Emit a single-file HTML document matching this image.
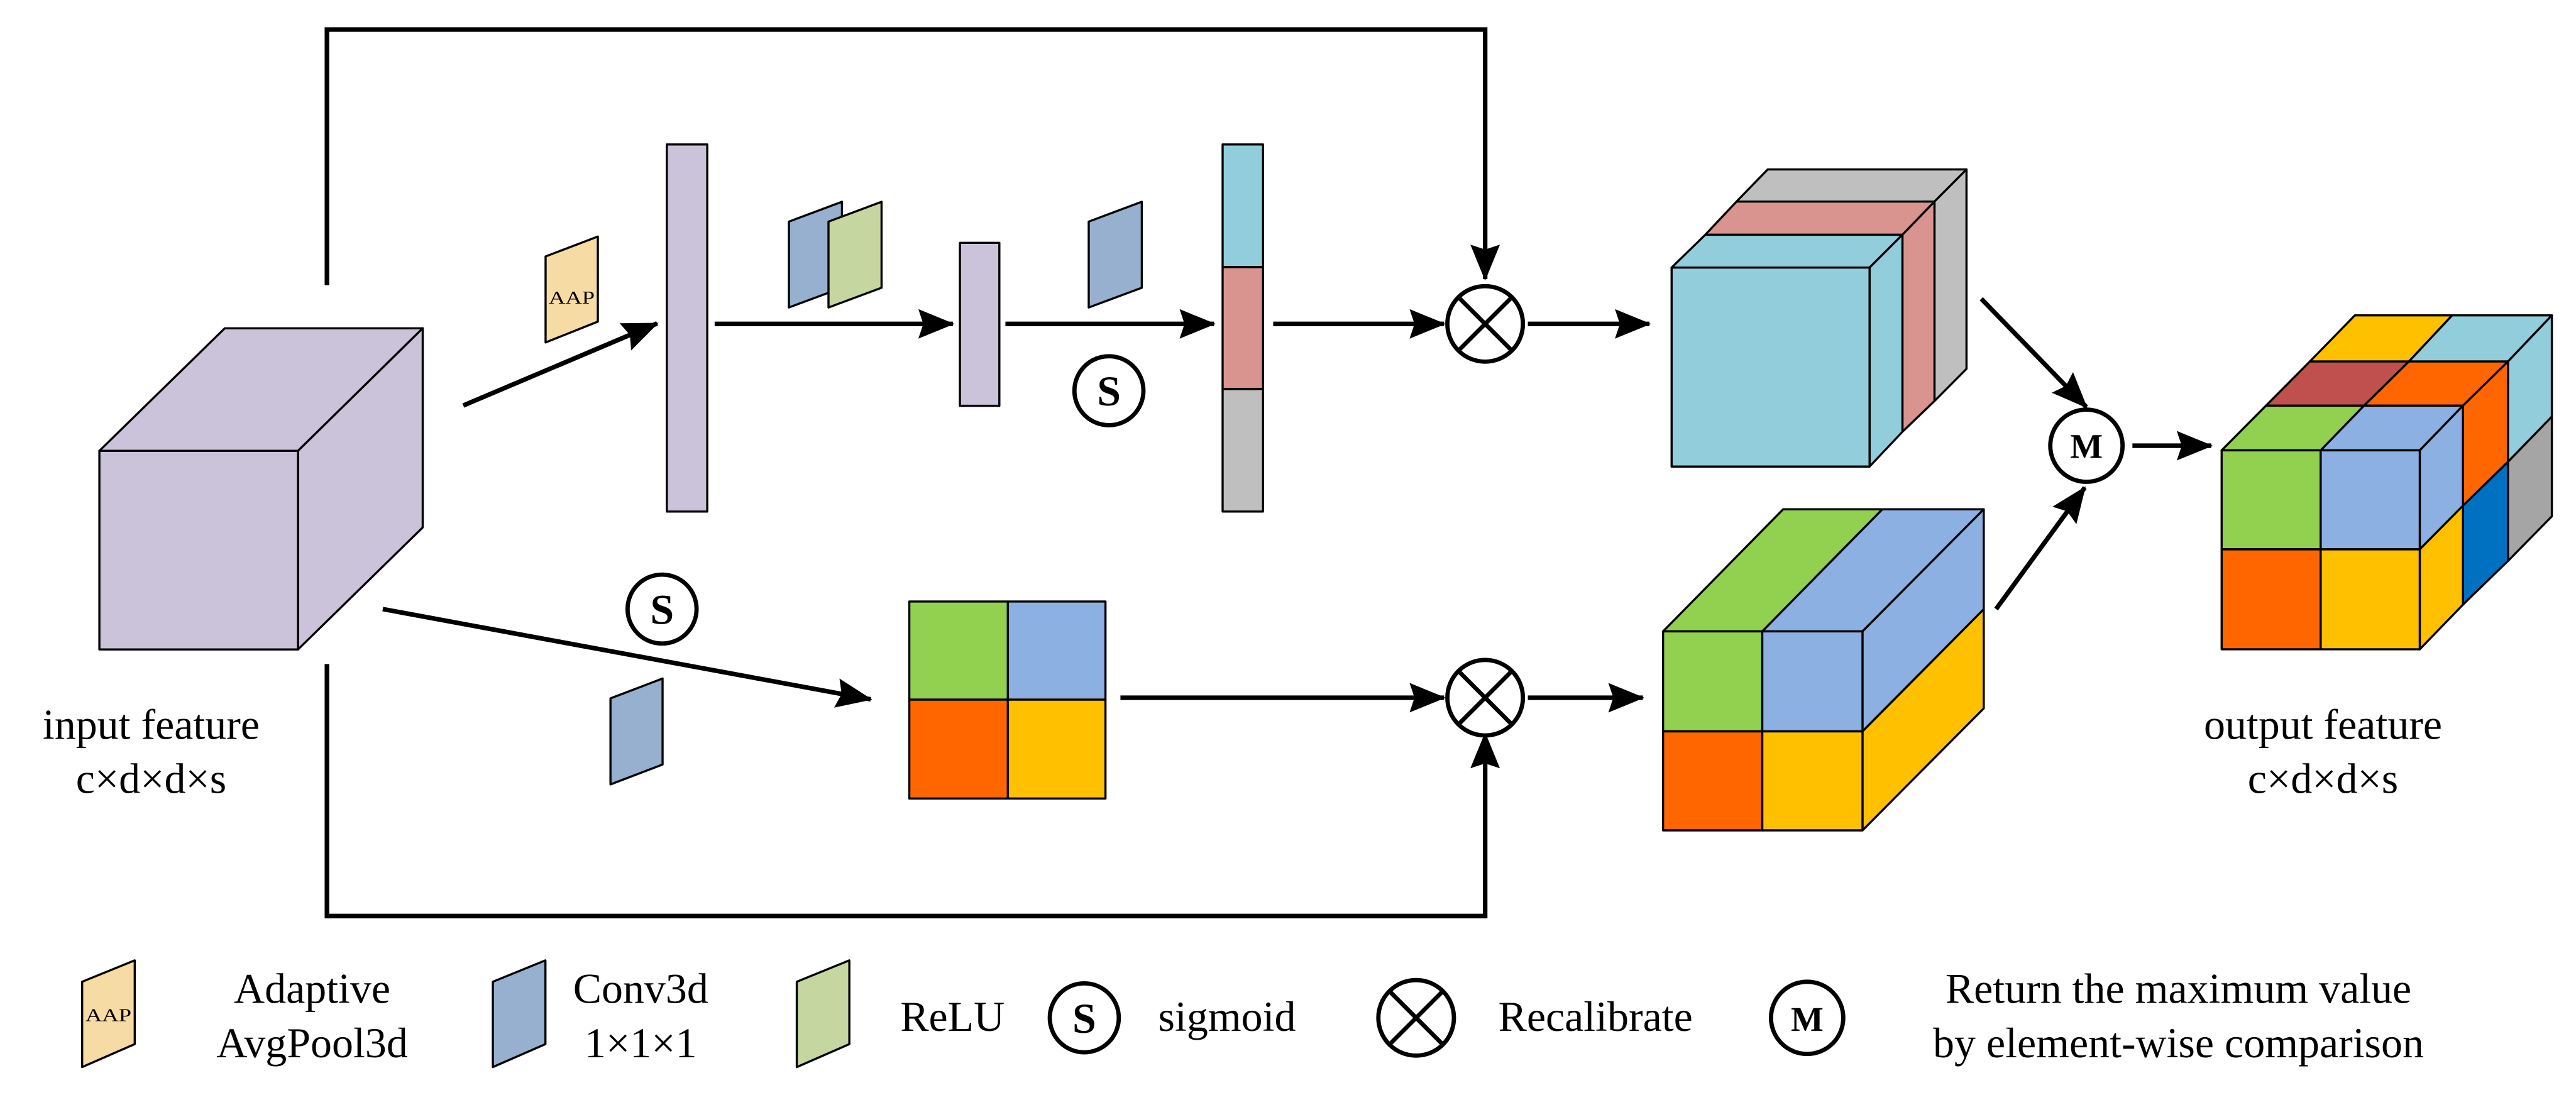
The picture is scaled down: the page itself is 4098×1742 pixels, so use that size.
<!DOCTYPE html>
<html><head><meta charset="utf-8"><style>html,body{margin:0;padding:0;background:#fff}svg{display:block}</style></head><body>
<svg width="4098" height="1742" viewBox="0 0 1568 667" preserveAspectRatio="none" xmlns="http://www.w3.org/2000/svg" style="font-family:'Liberation Serif',serif">
<defs>
<marker id="a" markerUnits="userSpaceOnUse" markerWidth="24" markerHeight="20" refX="21" refY="10" orient="auto"><polygon points="0,1 22,10 0,19 3,10" fill="#000"/></marker>
</defs>
<g fill="none" stroke="#000" stroke-width="2.8">
<polyline points="199,173.7 199,18 904,18 904,170" marker-end="url(#a)"/>
<polyline points="199,404.5 199,558 904,558 904,447" marker-end="url(#a)"/>
<line x1="282" y1="247" x2="400" y2="197" marker-end="url(#a)"/>
<line x1="435" y1="197.3" x2="580" y2="197.3" marker-end="url(#a)"/>
<line x1="612" y1="197.3" x2="739" y2="197.3" marker-end="url(#a)"/>
<line x1="775" y1="197.3" x2="879" y2="197.3" marker-end="url(#a)"/>
<line x1="930" y1="197.3" x2="1004" y2="197.3" marker-end="url(#a)"/>
<line x1="233" y1="371" x2="530" y2="426" marker-end="url(#a)"/>
<line x1="682" y1="425" x2="879" y2="425" marker-end="url(#a)"/>
<line x1="930" y1="425" x2="1000" y2="425" marker-end="url(#a)"/>
<line x1="1206" y1="182" x2="1270" y2="248" marker-end="url(#a)"/>
<line x1="1215" y1="371" x2="1269" y2="297" marker-end="url(#a)"/>
<line x1="1298" y1="271.5" x2="1346" y2="271.5" marker-end="url(#a)"/>
</g>
<g stroke="#000" stroke-width="1.3" stroke-linejoin="round">
<polygon points="60.5,274.6 136.8,200 257.3,200 181.4,274.6" fill="#cbc3da"/>
<polygon points="181.4,274.6 257.3,200 257.3,321.3 181.4,395.6" fill="#cbc3da"/>
<rect x="60.5" y="274.6" width="120.9" height="121" fill="#cbc3da"/>
<polygon points="332.1,156.2 363.9,144.1 363.9,195.9 332.1,208.6" fill="#f7dba5"/>
<rect x="405.9" y="88" width="24.6" height="223.6" fill="#cbc3da"/>
<polygon points="480.2,135 512.5,122.9 512.5,175.3 480.2,187.3" fill="#98b0cf"/>
<polygon points="504.3,135 536.6,122.9 536.6,175.3 504.3,187.3" fill="#c5d6a1"/>
<rect x="584.3" y="147.9" width="24" height="99.3" fill="#cbc3da"/>
<polygon points="662.7,135 695,122.9 695,175.3 662.7,187.3" fill="#98b0cf"/>
<rect x="744.2" y="88" width="24.6" height="74.7" fill="#92cddb"/>
<rect x="744.2" y="162.7" width="24.6" height="74.3" fill="#d9948f"/>
<rect x="744.2" y="237" width="24.6" height="74.6" fill="#bfbfbf"/>
<polygon points="371.6,425.4 403.3,413.3 403.3,465.7 371.6,477.8" fill="#98b0cf"/>
<rect x="553.5" y="366.4" width="60" height="59.8" fill="#92d050"/>
<rect x="613.5" y="366.4" width="59.4" height="59.8" fill="#8db0e2"/>
<rect x="553.5" y="426.2" width="60" height="60.2" fill="#ff6600"/>
<rect x="613.5" y="426.2" width="59.4" height="60.2" fill="#ffc000"/>
<polygon points="1076,103.2 1197,103.2 1177.5,122.8 1057,122.8" fill="#bfbfbf"/>
<polygon points="1177.5,122.8 1197,103.2 1197,224.7 1177.5,244.3" fill="#bfbfbf"/>
<polygon points="1057,122.8 1177.5,122.8 1158,143 1038,143" fill="#d9948f"/>
<polygon points="1158,143 1177.5,122.8 1177.5,244.3 1158,263" fill="#d9948f"/>
<polygon points="1038,143 1158,143 1138,163 1017.5,163" fill="#92cddb"/>
<polygon points="1138,163 1158,143 1158,263 1138,284.2" fill="#92cddb"/>
<rect x="1017.5" y="163" width="120.5" height="121.2" fill="#92cddb"/>
<polygon points="1012.3,384.6 1085.4,310.2 1145.8,310.2 1072.7,384.6" fill="#92d050"/>
<polygon points="1072.7,384.6 1145.8,310.2 1207.5,310.2 1133.7,384.6" fill="#8db0e2"/>
<polygon points="1133.7,384.6 1207.5,310.2 1207.5,371.1 1133.7,445.5" fill="#8db0e2"/>
<polygon points="1133.7,445.5 1207.5,371.1 1207.5,431.5 1133.7,505.8" fill="#ffc000"/>
<rect x="1012.3" y="384.6" width="60.4" height="60.9" fill="#92d050"/>
<rect x="1072.7" y="384.6" width="61" height="60.9" fill="#8db0e2"/>
<rect x="1012.3" y="445.5" width="60.4" height="60.3" fill="#ff6600"/>
<rect x="1072.7" y="445.5" width="61" height="60.3" fill="#ffc000"/>
<polygon points="1406,220.2 1433.4,192.1 1492.6,192.1 1466.3,220.2" fill="#ffc000"/>
<polygon points="1466.3,220.2 1492.6,192.1 1553.3,192.1 1526.6,220.2" fill="#92cddb"/>
<polygon points="1379.3,247.1 1406,220.2 1466.3,220.2 1439,247.1" fill="#c0504d"/>
<polygon points="1439,247.1 1466.3,220.2 1526.6,220.2 1499.2,247.1" fill="#ff6600"/>
<polygon points="1352.3,274.3 1379.3,247.1 1439,247.1 1412.6,274.3" fill="#92d050"/>
<polygon points="1412.6,274.3 1439,247.1 1499.2,247.1 1472.9,274.3" fill="#8db0e2"/>
<polygon points="1526.6,220.2 1553.3,192.1 1553.3,253.8 1526.6,281.3" fill="#92cddb"/>
<polygon points="1526.6,281.3 1553.3,253.8 1553.3,314.5 1526.6,341.7" fill="#a5a5a5"/>
<polygon points="1499.2,247.1 1526.6,220.2 1526.6,281.3 1499.2,308" fill="#ff6600"/>
<polygon points="1499.2,308 1526.6,281.3 1526.6,341.7 1499.2,368.3" fill="#0070c0"/>
<polygon points="1472.9,274.3 1499.2,247.1 1499.2,308 1472.9,334.6" fill="#8db0e2"/>
<polygon points="1472.9,334.6 1499.2,308 1499.2,368.3 1472.9,395.5" fill="#ffc000"/>
<rect x="1352.3" y="274.3" width="60.3" height="60.3" fill="#92d050"/>
<rect x="1412.6" y="274.3" width="60.3" height="60.3" fill="#8db0e2"/>
<rect x="1352.3" y="334.6" width="60.3" height="60.9" fill="#ff6600"/>
<rect x="1412.6" y="334.6" width="60.3" height="60.9" fill="#ffc000"/>
<polygon points="50,598 82,585 82,636 50,650" fill="#f7dba5"/>
<polygon points="300,598 332,585 332,636 300,650" fill="#98b0cf"/>
<polygon points="485,598 517,585 517,636 485,650" fill="#c5d6a1"/>
</g>
<g fill="#fff" stroke="#000" stroke-width="2.6">
<circle cx="675" cy="238" r="21"/>
<circle cx="403" cy="371" r="21"/>
<circle cx="904" cy="197.3" r="23"/>
<circle cx="904" cy="425" r="23"/>
<circle cx="1270" cy="271.5" r="22"/>
<circle cx="660" cy="620" r="21"/>
<circle cx="862" cy="620" r="23"/>
<circle cx="1100" cy="620" r="22"/>
</g>
<g stroke="#000" stroke-width="2.6">
<line x1="887.7" y1="181" x2="920.3" y2="213.6"/><line x1="920.3" y1="181" x2="887.7" y2="213.6"/>
<line x1="887.7" y1="408.7" x2="920.3" y2="441.3"/><line x1="920.3" y1="408.7" x2="887.7" y2="441.3"/>
<line x1="845.7" y1="603.7" x2="878.3" y2="636.3"/><line x1="878.3" y1="603.7" x2="845.7" y2="636.3"/>
</g>
<g font-weight="bold" text-anchor="middle" font-size="26" style="font-family:'Liberation Serif',serif">
<text x="675" y="247">S</text><text x="403" y="380">S</text><text x="660" y="629">S</text>
<text x="1270" y="279" font-size="21">M</text><text x="1100" y="628" font-size="21">M</text>
</g>
<g font-size="26" fill="#000" style="font-family:'Liberation Serif',serif">
<text x="348" y="185" font-size="11" text-anchor="middle" textLength="28" lengthAdjust="spacingAndGlyphs">AAP</text>
<text x="66" y="622" font-size="11" text-anchor="middle" textLength="28" lengthAdjust="spacingAndGlyphs">AAP</text>
<text x="92" y="450" text-anchor="middle">input feature</text>
<text x="92" y="483" text-anchor="middle">c×d×d×s</text>
<text x="1414" y="450" text-anchor="middle">output feature</text>
<text x="1414" y="483" text-anchor="middle">c×d×d×s</text>
<text x="190" y="611" text-anchor="middle">Adaptive</text>
<text x="190" y="644" text-anchor="middle">AvgPool3d</text>
<text x="390" y="611" text-anchor="middle">Conv3d</text>
<text x="390" y="644" text-anchor="middle">1×1×1</text>
<text x="548" y="628">ReLU</text>
<text x="705" y="628">sigmoid</text>
<text x="912" y="628">Recalibrate</text>
<text x="1326" y="611" text-anchor="middle">Return the maximum value</text>
<text x="1326" y="644" text-anchor="middle">by element-wise comparison</text>
</g>
</svg>
</body></html>
